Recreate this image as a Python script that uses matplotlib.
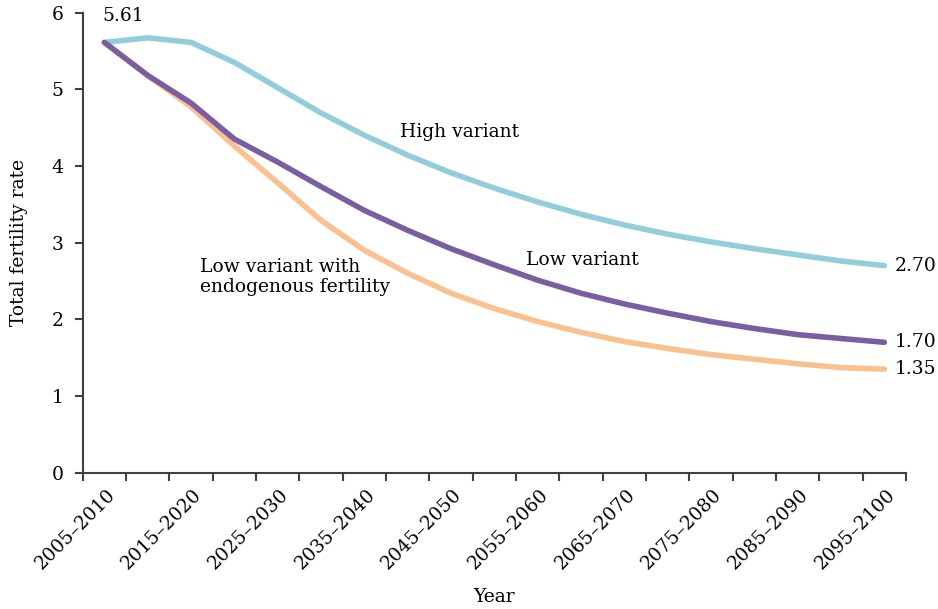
import matplotlib
matplotlib.use("Agg")
import matplotlib.pyplot as plt
import matplotlib.transforms as mtransforms
import numpy as np

periods = ["2005–2010", "2010–2015", "2015–2020", "2020–2025", "2025–2030",
           "2030–2035", "2035–2040", "2040–2045", "2045–2050", "2050–2055",
           "2055–2060", "2060–2065", "2065–2070", "2070–2075", "2075–2080",
           "2080–2085", "2085–2090", "2090–2095", "2095–2100"]

high_variant = [5.61, 5.67, 5.61, 5.35, 5.02, 4.69, 4.40, 4.14, 3.91, 3.71,
                3.53, 3.37, 3.23, 3.11, 3.01, 2.92, 2.84, 2.76, 2.70]
low_variant = [5.61, 5.18, 4.82, 4.35, 4.05, 3.73, 3.42, 3.16, 2.92, 2.71,
               2.51, 2.34, 2.20, 2.08, 1.97, 1.88, 1.80, 1.75, 1.70]
low_endogenous = [5.61, 5.18, 4.77, 4.26, 3.78, 3.29, 2.90, 2.60, 2.34, 2.14,
                  1.97, 1.83, 1.71, 1.62, 1.54, 1.48, 1.42, 1.37, 1.35]

plt.rcParams['font.family'] = ['DejaVu Serif']
FS = 13.5

W, H = 938, 609
fig = plt.figure(figsize=(W / 100, H / 100), dpi=100)
ax = fig.add_axes([82.7 / W, 1 - 472.7 / H, (906 - 82.7) / W, (472.7 - 12.5) / H])

x = np.arange(len(periods))
lw = 4.0
ax.plot(x, high_variant, color="#92CDDC", lw=lw, solid_capstyle="round", solid_joinstyle="round")
ax.plot(x, low_endogenous, color="#FAC090", lw=lw, solid_capstyle="round", solid_joinstyle="round")
ax.plot(x, low_variant, color="#7B5EA1", lw=lw, solid_capstyle="round", solid_joinstyle="round")

ax.set_xlim(-0.5, len(periods) - 0.5)
ax.set_ylim(0, 6)
ax.set_yticks(range(0, 7))
ax.set_yticklabels([str(v) for v in range(0, 7)], fontsize=FS)

ax.set_xticks(np.arange(-0.5, len(periods), 1.0))
ax.set_xticklabels([])
ax.set_xticks(x[::2], minor=True)
ax.set_xticklabels(periods[::2], minor=True, rotation=45, ha="right",
                   va="center", rotation_mode="anchor", fontsize=FS)
ax.tick_params(axis="x", which="minor", length=0, pad=16)
ax.tick_params(axis="x", which="major", length=6, width=1.5, color="#404040")
ax.tick_params(axis="y", length=6, width=1.5, color="#404040", pad=8)

offset = mtransforms.ScaledTranslation(8 / 100, 3 / 100, fig.dpi_scale_trans)
for lab in ax.get_xticklabels(minor=True):
    lab.set_transform(lab.get_transform() + offset)

for s in ["top", "right"]:
    ax.spines[s].set_visible(False)
for s in ["left", "bottom"]:
    ax.spines[s].set_color("#404040")
    ax.spines[s].set_linewidth(1.5)

ax.set_ylabel("Total fertility rate", fontsize=FS, labelpad=17)
ax.set_xlabel("Year", fontsize=FS, labelpad=11)

ax.text(-0.04, 5.96, f"{high_variant[0]:.2f}", fontsize=FS, ha="left", va="center")
ax.text(8.2, 4.44, "High variant", fontsize=FS, ha="center", va="center")
ax.text(11.02, 2.77, "Low variant", fontsize=FS, ha="center", va="center")
ax.text(2.2, 2.55, "Low variant with\nendogenous fertility", fontsize=FS,
        ha="left", va="center", linespacing=1.1)
ax.text(18.25, high_variant[-1], f"{high_variant[-1]:.2f}", fontsize=FS, ha="left", va="center")
ax.text(18.25, low_variant[-1], f"{low_variant[-1]:.2f}", fontsize=FS, ha="left", va="center")
ax.text(18.25, low_endogenous[-1], f"{low_endogenous[-1]:.2f}", fontsize=FS, ha="left", va="center")

for t in ax.texts:
    t.set_clip_on(False)

fig.savefig("out.png", dpi=100)
